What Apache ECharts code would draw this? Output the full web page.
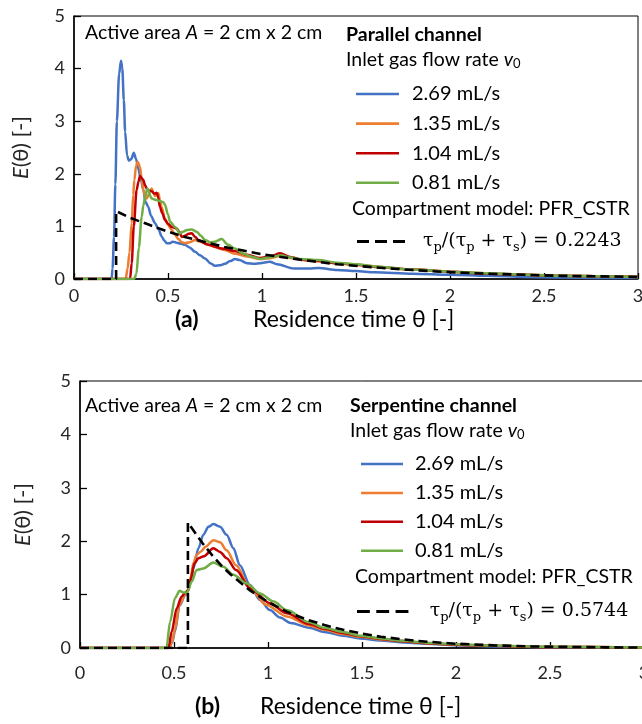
<!DOCTYPE html>
<html>
<head>
<meta charset="utf-8">
<script src="https://cdn.jsdelivr.net/npm/echarts@6/dist/echarts.min.js"></script>
<style>html,body{margin:0;padding:0;background:#fff;}#c{width:642px;height:724px;}</style>
</head>
<body>
<div id="c"></div>
<script>
// ---------- data (theta, E) ----------
const xTicks = ['0', '0.5', '1', '1.5', '2', '2.5', '3'];
const flowNames = ['2.69 mL/s', '1.35 mL/s', '1.04 mL/s', '0.81 mL/s'];
const colors = ['#4472C4', '#ED7D31', '#C00000', '#70AD47'];

// (a) Parallel channel
const parBlue = [[0,0],[0.2,0],[0.205,0.2],[0.213,0.8],[0.22,1.8],[0.228,3.0],[0.24,3.9],[0.25,4.15],[0.257,4.0],[0.265,3.4],[0.272,2.8],[0.282,2.35],[0.292,2.25],[0.305,2.28],[0.318,2.4],[0.33,2.28],[0.342,2.1],[0.355,1.9],[0.369,1.69],[0.38,1.47],[0.395,1.37],[0.41,1.2],[0.431,1.06],[0.45,0.94],[0.466,0.81],[0.48,0.73],[0.493,0.68],[0.51,0.68],[0.525,0.71],[0.546,0.69],[0.57,0.67],[0.59,0.65],[0.615,0.6],[0.644,0.52],[0.67,0.45],[0.697,0.39],[0.725,0.3],[0.75,0.25],[0.775,0.26],[0.803,0.29],[0.83,0.34],[0.856,0.38],[0.88,0.36],[0.92,0.3],[0.96,0.29],[0.99,0.3],[1.04,0.33],[1.08,0.28],[1.17,0.2],[1.25,0.2],[1.3,0.21],[1.4,0.17],[1.5,0.15],[1.6,0.13],[1.8,0.1],[2.0,0.08],[2.2,0.06],[2.4,0.04],[2.6,0.03],[2.8,0.02],[3.0,0.02]];
const parOrange = [[0,0],[0.275,0],[0.285,0.2],[0.295,0.5],[0.307,1.06],[0.315,1.6],[0.321,1.88],[0.33,2.15],[0.339,2.23],[0.351,2.13],[0.36,1.9],[0.369,1.69],[0.38,1.55],[0.387,1.53],[0.4,1.62],[0.413,1.72],[0.422,1.65],[0.431,1.58],[0.44,1.6],[0.449,1.63],[0.457,1.5],[0.466,1.37],[0.484,1.15],[0.5,1.03],[0.52,0.93],[0.537,0.84],[0.555,0.76],[0.573,0.7],[0.59,0.68],[0.615,0.7],[0.644,0.74],[0.67,0.71],[0.697,0.68],[0.75,0.61],[0.803,0.55],[0.856,0.48],[0.92,0.43],[0.99,0.38],[1.05,0.4],[1.1,0.44],[1.15,0.4],[1.2,0.37],[1.3,0.34],[1.4,0.3],[1.5,0.27],[1.6,0.24],[1.8,0.18],[2.0,0.14],[2.2,0.11],[2.4,0.08],[2.6,0.06],[2.8,0.05],[3.0,0.04]];
const parRed = [[0,0],[0.298,0],[0.307,0.3],[0.318,1.0],[0.333,1.69],[0.343,1.85],[0.351,1.96],[0.36,1.92],[0.369,1.88],[0.378,1.78],[0.387,1.72],[0.4,1.68],[0.413,1.67],[0.428,1.62],[0.44,1.64],[0.448,1.55],[0.457,1.37],[0.47,1.25],[0.484,1.12],[0.5,1.05],[0.52,0.99],[0.546,0.96],[0.56,0.9],[0.573,0.8],[0.59,0.82],[0.61,0.86],[0.626,0.87],[0.645,0.8],[0.661,0.74],[0.714,0.65],[0.785,0.58],[0.856,0.53],[0.92,0.46],[0.99,0.4],[1.05,0.44],[1.096,0.49],[1.15,0.42],[1.22,0.36],[1.3,0.34],[1.4,0.3],[1.5,0.27],[1.6,0.23],[1.8,0.18],[2.0,0.14],[2.2,0.1],[2.4,0.08],[2.6,0.06],[2.8,0.05],[3.0,0.04]];
const parGreen = [[0,0],[0.32,0],[0.332,0.1],[0.345,0.6],[0.36,1.18],[0.369,1.4],[0.378,1.55],[0.39,1.72],[0.397,1.68],[0.405,1.58],[0.413,1.53],[0.44,1.5],[0.466,1.47],[0.475,1.46],[0.484,1.41],[0.5,1.22],[0.511,1.09],[0.537,0.99],[0.564,0.87],[0.58,0.9],[0.6,0.93],[0.626,0.94],[0.653,0.9],[0.675,0.82],[0.697,0.74],[0.725,0.7],[0.75,0.71],[0.785,0.76],[0.82,0.65],[0.856,0.58],[0.9,0.48],[0.95,0.42],[0.99,0.38],[1.05,0.42],[1.1,0.45],[1.15,0.41],[1.2,0.38],[1.3,0.36],[1.4,0.31],[1.5,0.28],[1.6,0.24],[1.8,0.18],[2.0,0.14],[2.2,0.11],[2.4,0.08],[2.6,0.06],[2.8,0.05],[3.0,0.04]];
const parModel = [[0,0],[0.224,0],[0.224,1.29],[0.3,1.16],[0.4,1.03],[0.5,0.9],[0.6,0.79],[0.7,0.7],[0.8,0.61],[0.9,0.54],[1.0,0.47],[1.2,0.37],[1.4,0.28],[1.6,0.22],[1.8,0.17],[2.0,0.13],[2.2,0.1],[2.4,0.08],[2.6,0.06],[2.8,0.05],[3.0,0.04]];

// (b) Serpentine channel
const serBlue = [[0,0],[0.47,0],[0.49,0.1],[0.505,0.31],[0.53,0.8],[0.56,0.99],[0.576,1.09],[0.59,1.28],[0.603,1.49],[0.63,1.87],[0.656,2.12],[0.683,2.27],[0.709,2.32],[0.745,2.27],[0.78,2.12],[0.816,1.87],[0.85,1.55],[0.904,1.18],[0.957,0.9],[1.01,0.71],[1.064,0.57],[1.12,0.47],[1.22,0.38],[1.3,0.3],[1.4,0.23],[1.49,0.18],[1.6,0.14],[1.7,0.11],[1.84,0.08],[2.0,0.05],[2.2,0.03],[2.5,0.015],[3.0,0.005]];
const serOrange = [[0,0],[0.475,0],[0.49,0.12],[0.505,0.35],[0.53,0.82],[0.56,1.0],[0.576,1.08],[0.59,1.35],[0.603,1.59],[0.62,1.74],[0.64,1.8],[0.67,1.9],[0.709,2.02],[0.745,1.98],[0.78,1.83],[0.83,1.55],[0.904,1.12],[0.99,0.81],[1.1,0.59],[1.22,0.42],[1.3,0.34],[1.4,0.26],[1.49,0.21],[1.6,0.16],[1.7,0.13],[1.84,0.09],[2.0,0.06],[2.2,0.04],[2.5,0.02],[3.0,0.01]];
const serRed = [[0,0],[0.47,0],[0.488,0.31],[0.514,0.74],[0.54,0.96],[0.56,1.04],[0.576,1.08],[0.585,1.24],[0.61,1.59],[0.63,1.68],[0.66,1.72],[0.709,1.87],[0.745,1.8],[0.78,1.68],[0.83,1.46],[0.904,1.12],[1.01,0.84],[1.1,0.65],[1.22,0.45],[1.3,0.36],[1.4,0.28],[1.49,0.22],[1.6,0.17],[1.7,0.13],[1.84,0.09],[2.0,0.06],[2.2,0.04],[2.5,0.02],[3.0,0.01]];
const serGreen = [[0,0],[0.46,0],[0.479,0.49],[0.505,0.93],[0.53,1.07],[0.55,1.04],[0.57,1.04],[0.594,1.24],[0.62,1.46],[0.656,1.49],[0.709,1.6],[0.762,1.52],[0.816,1.37],[0.887,1.21],[0.957,1.02],[1.03,0.87],[1.1,0.71],[1.22,0.48],[1.3,0.38],[1.4,0.3],[1.49,0.23],[1.6,0.18],[1.7,0.14],[1.84,0.1],[2.0,0.07],[2.2,0.045],[2.5,0.025],[3.0,0.01]];
const serModel = [[0,0],[0.574,0],[0.574,2.35],[0.6,2.22],[0.65,1.97],[0.7,1.75],[0.75,1.55],[0.8,1.38],[0.9,1.09],[1.0,0.86],[1.1,0.68],[1.2,0.54],[1.3,0.43],[1.4,0.34],[1.5,0.27],[1.6,0.21],[1.7,0.17],[1.8,0.13],[2.0,0.08],[2.2,0.05],[2.4,0.03],[2.6,0.02],[2.8,0.012],[3.0,0.008]];

const modelRatios = ['0.2243', '0.5744'];

// ---------- chart ----------
const FONT = 'Lato';
const chart = echarts.init(document.getElementById('c'), null, {renderer: 'canvas'});

function xAxisCfg(gi, margin) {
  return {
    type: 'value', gridIndex: gi, min: 0, max: 3, interval: 0.5,
    axisLine: {show: true, lineStyle: {color: '#000', width: 1.5}},
    axisTick: {show: true, inside: true, length: 6, lineStyle: {color: '#000', width: 1.3}},
    axisLabel: {margin: margin, fontFamily: FONT, fontSize: 18, color: '#262626',
      formatter: (v) => xTicks[Math.round(v / 0.5)]},
    splitLine: {show: false}
  };
}
function yAxisCfg(gi, gap) {
  return {
    type: 'value', gridIndex: gi, min: 0, max: 5, interval: 1,
    axisLine: {show: true, lineStyle: {color: '#000', width: 1.5}},
    axisTick: {show: true, inside: true, length: 7, lineStyle: {color: '#000', width: 1.3}},
    axisLabel: {margin: 9, fontFamily: FONT, fontSize: 18, color: '#262626'},
    splitLine: {show: false},
    name: '{i|E}{n|(θ) [-]}', nameLocation: 'middle', nameGap: gap, nameRotate: 90,
    nameTextStyle: {rich: {
      i: {fontFamily: FONT, fontSize: 22, fontStyle: 'italic', color: '#262626'},
      n: {fontFamily: FONT, fontSize: 22, color: '#262626'}
    }}
  };
}
function curve(name, data, gi, color) {
  return {type: 'line', name: name, data: data, xAxisIndex: gi, yAxisIndex: gi,
    symbol: 'none', smooth: 0.3, smoothMonotone: 'x',
    lineStyle: {color: color, width: 2.5}, itemStyle: {color: color}};
}
function model(name, data, gi) {
  return {type: 'line', name: name, data: data, xAxisIndex: gi, yAxisIndex: gi,
    symbol: 'none', smooth: false,
    lineStyle: {color: '#000', width: 2.6, type: [9, 5]}, itemStyle: {color: '#000'}};
}
const modelNames = ['PFR_CSTR (a)', 'PFR_CSTR (b)'];
function formulaRich(r) {
  return '{t|τ}{s|p}{t|/(τ}{s|p}{t| + τ}{s|s}{t|) = ' + r + '}';
}
const formulaStyle = {
  rich: {
    t: {fontFamily: 'DejaVu Serif', fontSize: 19, color: '#000', lineHeight: 26, verticalAlign: 'middle'},
    s: {fontFamily: 'DejaVu Serif', fontSize: 13, color: '#000', lineHeight: 14, verticalAlign: 'bottom'}
  }
};
const LINE_ICON = 'path://M0,0H43V2.6H0Z';
const DASH_ICON = 'path://M0,0H12V2.8H0Z M18,0H30V2.8H18Z M36,0H48V2.8H36Z';
const legTextStyle = {fontFamily: FONT, fontSize: 20, color: '#000', lineHeight: 20};

const TXT = 19.5;
const txtRich = {
  n: {fontFamily: FONT, fontSize: TXT, color: '#000'},
  i: {fontFamily: FONT, fontSize: TXT, color: '#000', fontStyle: 'italic'},
  b: {fontFamily: FONT, fontSize: TXT, color: '#000', fontWeight: 'bold'},
  sub: {fontFamily: FONT, fontSize: 13, color: '#000', verticalAlign: 'bottom', lineHeight: 13}
};
function txt(x, y, text) {
  return {type: 'text', x: x, y: y, silent: true,
    style: {text: text, rich: txtRich, verticalAlign: 'middle', fill: '#000', font: TXT + 'px ' + FONT}};
}
function big(x, y, text, bold) {
  return {type: 'text', x: x, y: y, silent: true,
    style: {text: text, verticalAlign: 'middle', fill: '#000',
      font: (bold ? 'bold ' : '') + '23px ' + FONT}};
}

const option = {
  animation: false,
  backgroundColor: '#fff',
  grid: [
    {left: 74, top: 16, right: 4, height: 263, show: true, borderColor: '#000', borderWidth: 1,
      containLabel: false, outerBoundsMode: 'none'},
    {left: 80, top: 381, right: -2, height: 267, show: true, borderColor: '#000', borderWidth: 1,
      containLabel: false, outerBoundsMode: 'none'}
  ],
  xAxis: [xAxisCfg(0, 8), xAxisCfg(1, 16)],
  yAxis: [yAxisCfg(0, 42), yAxisCfg(1, 46)],
  legend: [
    {data: flowNames, orient: 'vertical', left: 351, top: 79, icon: LINE_ICON, itemWidth: 43, itemHeight: 2.6, itemGap: 9.6,
      selectedMode: false, textStyle: Object.assign({padding: [0, 0, 0, 8]}, legTextStyle)},
    {data: [modelNames[0]], orient: 'vertical', left: 352, top: 227, icon: DASH_ICON, itemWidth: 48, itemHeight: 2.8,
      selectedMode: false, formatter: () => formulaRich(modelRatios[0]),
      textStyle: Object.assign({padding: [0, 0, 0, 13]}, formulaStyle)},
    {data: flowNames, orient: 'vertical', left: 356, top: 449, icon: LINE_ICON, itemWidth: 42, itemHeight: 2.55, itemGap: 8.9,
      selectedMode: false, textStyle: Object.assign({padding: [0, 0, 0, 7]}, legTextStyle)},
    {data: [modelNames[1]], orient: 'vertical', left: 352, top: 597, icon: DASH_ICON, itemWidth: 52, itemHeight: 3,
      selectedMode: false, formatter: () => formulaRich(modelRatios[1]),
      textStyle: Object.assign({padding: [0, 0, 0, 16]}, formulaStyle)}
  ],
  graphic: [
    txt(85, 33, '{n|Active area }{i|A}{n| = 2 cm x 2 cm}'),
    txt(346, 35, '{b|Parallel channel}'),
    txt(346, 60, '{n|Inlet gas flow rate }{i|v}{sub|0}'),
    txt(352, 209, '{n|Compartment model: PFR_CSTR}'),
    big(175, 320, '(a)', true),
    big(253, 320, 'Residence time θ [-]', false),
    txt(85, 406, '{n|Active area }{i|A}{n| = 2 cm x 2 cm}'),
    txt(350, 406, '{b|Serpentine channel}'),
    txt(350, 431, '{n|Inlet gas flow rate }{i|v}{sub|0}'),
    txt(355, 577, '{n|Compartment model: PFR_CSTR}'),
    big(195, 707, '(b)', true),
    big(260, 707, 'Residence time θ [-]', false)
  ],
  series: [
    curve(flowNames[0], parBlue, 0, colors[0]),
    curve(flowNames[1], parOrange, 0, colors[1]),
    curve(flowNames[2], parRed, 0, colors[2]),
    curve(flowNames[3], parGreen, 0, colors[3]),
    model(modelNames[0], parModel, 0),
    curve(flowNames[0], serBlue, 1, colors[0]),
    curve(flowNames[1], serOrange, 1, colors[1]),
    curve(flowNames[2], serRed, 1, colors[2]),
    curve(flowNames[3], serGreen, 1, colors[3]),
    model(modelNames[1], serModel, 1)
  ]
};
chart.setOption(option);
</script>
</body>
</html>
